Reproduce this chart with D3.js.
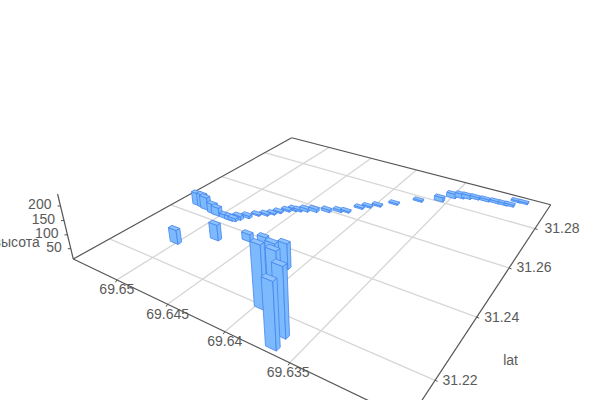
<!DOCTYPE html><html><head><meta charset="utf-8"><script src="https://cdn.jsdelivr.net/npm/d3@7"></script>
<style>html,body{margin:0;background:#fff}svg{display:block}text{font-family:"Liberation Sans",Arial,sans-serif;font-size:14px;fill:#5a5a5a}</style></head><body>
<svg id="c" width="600" height="400"></svg>
<script>
const lons=[69.63666,69.63680,69.63963,69.63829,69.64001,69.64103,69.64432,69.64565,69.65014,69.64786,69.65294,69.65233,69.65187,69.65090,69.65038,69.64949,69.64892,69.64864,69.64845,69.64802,69.64759,69.64700,69.64663,69.64632,69.64587,69.64545,69.64505,69.64457,69.64390,69.64298,69.64215,69.64158,69.64093,69.64047,69.63983,69.63877,69.63723,69.63571,69.63504,69.63440,69.63387,69.63322,69.63236,69.63150,69.63078,69.63028,69.63000,69.62940];
const lats=[31.2115,31.2150,31.2195,31.2190,31.2253,31.2334,31.2385,31.2377,31.2277,31.2340,31.2442,31.2441,31.2437,31.2431,31.2429,31.2429,31.2428,31.2431,31.2443,31.2461,31.2484,31.2496,31.2510,31.2525,31.2543,31.2555,31.2560,31.2569,31.2580,31.2597,31.2614,31.2622,31.2658,31.2675,31.2694,31.2727,31.2777,31.2809,31.2844,31.2855,31.2862,31.2871,31.2875,31.2879,31.2880,31.2883,31.2915,31.2916];
const heights=[226,238,224,229,179,104,42,40,64,71,61,63,61,49,44,26,28,23,27,22,17,19,17,18,19,21,19,24,24,22,20,18,18,18,18,18,18,29,30,30,27,22,21,21,21,20,18,18];
const lonTicks=[69.65,69.645,69.64,69.635];
const latTicks=[31.22,31.24,31.26,31.28];
const zTicks=[50,100,150,200];
const latName="lat",zName="высота";

const lonScale=d3.scaleLinear().domain([69.6548,69.6273]).range([0,1]);
const latScale=d3.scaleLinear().domain([31.2098,31.2944]).range([0,1]);
const zScale=d3.scaleLinear().domain([12,240]).range([0,1]);
const H=[215.3,351.8,73.3,37.4,-58.3,259,-.2943,.4572],VP=[325,1300],M=.05877;
function proj(u,v,w){const k=M*(w||0);const Z=H[6]*u+H[7]*v+1;
  return [(H[0]*u+H[1]*v+H[2]-k*VP[0])/(Z-k),(H[3]*u+H[4]*v+H[5]-k*VP[1])/(Z-k)];}
const depth=(u,v)=>H[6]*u+H[7]*v+1;
const svg=d3.select("#c");
const line=d3.line();
const seg=(g,a,b,col,wd)=>g.append("line").attr("x1",a[0]).attr("y1",a[1]).attr("x2",b[0]).attr("y2",b[1]).attr("stroke",col).attr("stroke-width",wd);
const gGrid=svg.append("g"),gAxis=svg.append("g"),gBars=svg.append("g"),gText=svg.append("g");
const gridC="#d6d6d6",axC="#555";
lonTicks.forEach(t=>{const u=lonScale(t);seg(gGrid,proj(u,0),proj(u,1),gridC,1.3);});
latTicks.forEach(t=>{const v=latScale(t);seg(gGrid,proj(0,v),proj(1,v),gridC,1.3);});
[[[0,0],[1,0]],[[1,0],[1,1]],[[1,1],[0,1]],[[0,1],[0,0]]].forEach(([a,b])=>seg(gAxis,proj(a[0],a[1]),proj(b[0],b[1]),axC,1.2));
seg(gAxis,proj(0,0,0),proj(0,0,1),axC,1.2);
lonTicks.forEach(t=>{const p=proj(lonScale(t),0);seg(gAxis,p,[p[0]-1.5,p[1]+2.5],axC,1);
  gText.append("text").attr("x",p[0]-(t<69.64?1.5:0)).attr("y",p[1]+9.5).attr("text-anchor","middle").attr("dominant-baseline","central").text(t);});
latTicks.forEach(t=>{const p=proj(1,latScale(t));seg(gAxis,p,[p[0]+2.5,p[1]+1],axC,1);
  gText.append("text").attr("x",p[0]+(t>31.27?27:25)).attr("y",p[1]-.5).attr("text-anchor","middle").attr("dominant-baseline","central").text(t);});
zTicks.forEach(t=>{const p=proj(0,0,zScale(t));seg(gAxis,p,[p[0]-3,p[1]],axC,1);
  gText.append("text").attr("x",p[0]-9).attr("y",p[1]-2).attr("text-anchor","end").attr("dominant-baseline","central").text(t);});
{const p=proj(0,0,.5);gText.append("text").attr("x",p[0]-26).attr("y",p[1]+15).attr("text-anchor","end").attr("dominant-baseline","central").text(zName);}
{const p=proj(1,.3);gText.append("text").attr("x",p[0]+43).attr("y",p[1]+29).attr("text-anchor","middle").attr("dominant-baseline","central").text(latName);}
const du=.015,dv=.007,fill="#7db9fd",edge="#4485ee",topFill="#8fc3ff";
const bars=lons.map((l,i)=>({u:lonScale(l),v:latScale(lats[i]),w:zScale(heights[i])})).sort((a,b)=>depth(b.u,b.v)-depth(a.u,a.v));
bars.forEach(b=>{
  const c=[[b.u-du,b.v-dv],[b.u+du,b.v-dv],[b.u+du,b.v+dv],[b.u-du,b.v+dv]];
  const g=gBars.append("g");
  [[0,1],[1,2]].forEach(([i,j])=>{
    const pts=[proj(c[i][0],c[i][1],0),proj(c[j][0],c[j][1],0),proj(c[j][0],c[j][1],b.w),proj(c[i][0],c[i][1],b.w)];
    g.append("path").attr("d",line(pts)+"Z").attr("fill",fill).attr("stroke",edge).attr("stroke-width",.8).attr("stroke-linejoin","round");
  });
  g.append("path").attr("d",line(c.map(q=>proj(q[0],q[1],b.w)))+"Z").attr("fill",topFill).attr("stroke",edge).attr("stroke-width",.8).attr("stroke-linejoin","round");
});
</script></body></html>
